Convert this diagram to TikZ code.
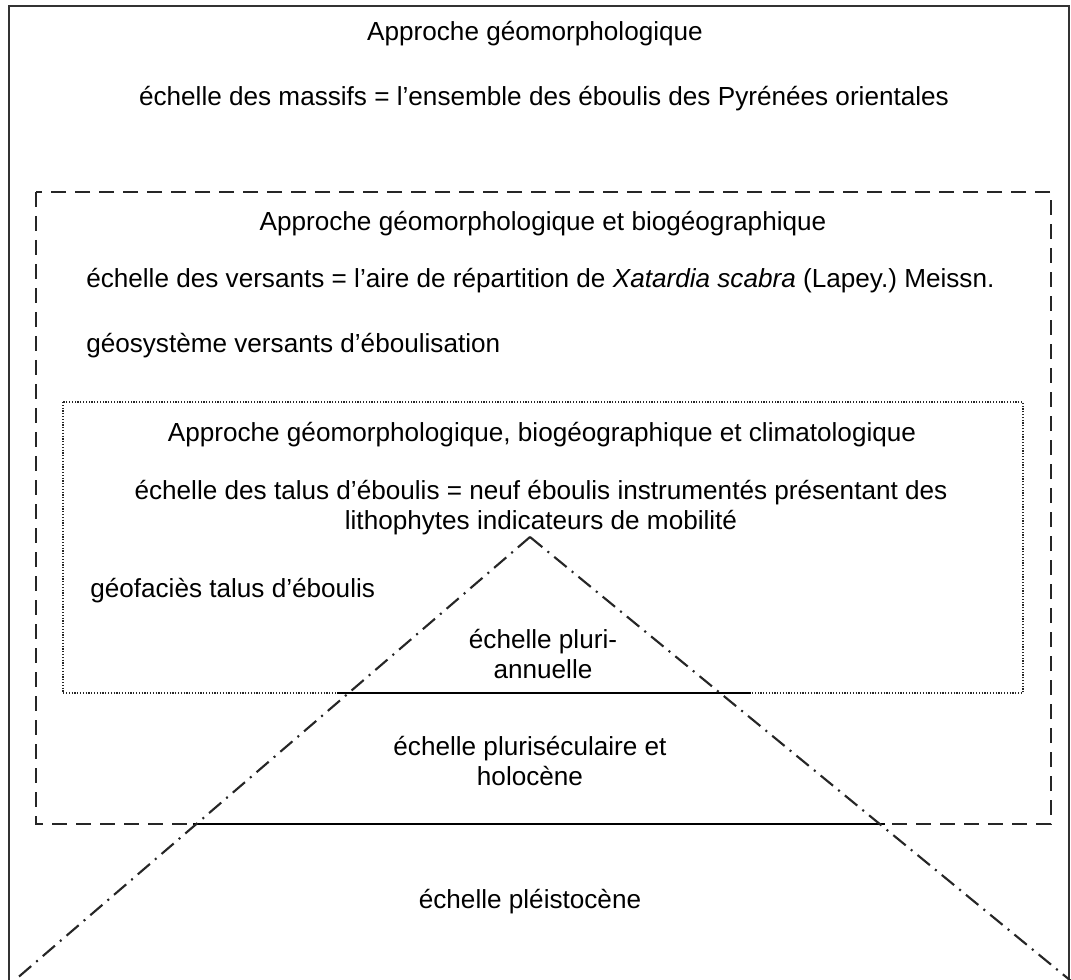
\documentclass[tikz,border=0pt]{standalone}
\usepackage{fontspec}
\setmainfont{Liberation Sans}
\frenchspacing
\begin{document}
\begin{tikzpicture}[x=0.75pt,y=-0.75pt,
  txt/.style={inner sep=0pt,font=\fontsize{19.6}{22.5}\selectfont,align=center,anchor=base},
  ltxt/.style={txt,anchor=base west,align=left},
  outerbox/.style={draw=black!80,line width=1.7pt},
  dashbox/.style={draw=black!85,line width=1.8pt,dash pattern=on 11.5pt off 6.5pt},
  dotbox/.style={draw=black!85,line width=1.2pt,dash pattern=on 0.9pt off 1.2pt},
  sepline/.style={draw=black,line width=1.6pt},
  tri/.style={draw=black!85,line width=1.6pt,dash pattern=on 12pt off 5pt on 1.5pt off 5pt}]
\useasboundingbox (0,0) rectangle (1071,980);
\begin{scope}
\clip (0,0) rectangle (1071,980);
% outer box
\draw[outerbox] (9,6) rectangle (1069,1000);
% dashed box
\draw[dashbox] (36,192) rectangle (1051,824);
% dotted box
\draw[dotbox] (63,402) rectangle (1023,693);
% separators
\coordinate (s1a) at (337,693); \coordinate (s1b) at (751,693);
\coordinate (s2a) at (193,824); \coordinate (s2b) at (885,824);
\draw[sepline] (s1a) -- (s1b);
\draw[sepline] (s2a) -- (s2b);
% triangle
\coordinate (apex) at (530,537);
\coordinate (bl) at (15,980);
\coordinate (br) at (1071,981);
\draw[tri] (apex) -- (bl);
\draw[tri] (apex) -- (br);
\end{scope}
% texts
\node[txt] (t1) at (535,41) {Approche géomorphologique};
\node[txt] (t2) at (544,106) {échelle des massifs = l’ensemble des éboulis des Pyrénées orientales};
\node[txt] (t3) at (543,231) {Approche géomorphologique et biogéographique};
\node[ltxt] (t4) at (86,288) {échelle des versants = l’aire de répartition de \textit{Xatardia scabra} (Lapey.) Meissn.};
\node[ltxt] (t5) at (86,353) {géosystème versants d’éboulisation};
\node[txt] (t6) at (542,441) {Approche géomorphologique, biogéographique et climatologique};
\node[txt] (t7) at (541,529) {échelle des talus d’éboulis = neuf éboulis instrumentés présentant des\\lithophytes indicateurs de mobilité};
\node[ltxt] (t8) at (90,597) {géofaciès talus d’éboulis};
\node[txt] (t9) at (543,678) {échelle pluri-\\annuelle};
\node[txt] (t10) at (530,785) {échelle pluriséculaire et\\holocène};
\node[txt] (t11) at (530,908) {échelle pléistocène};
\end{tikzpicture}
\end{document}
